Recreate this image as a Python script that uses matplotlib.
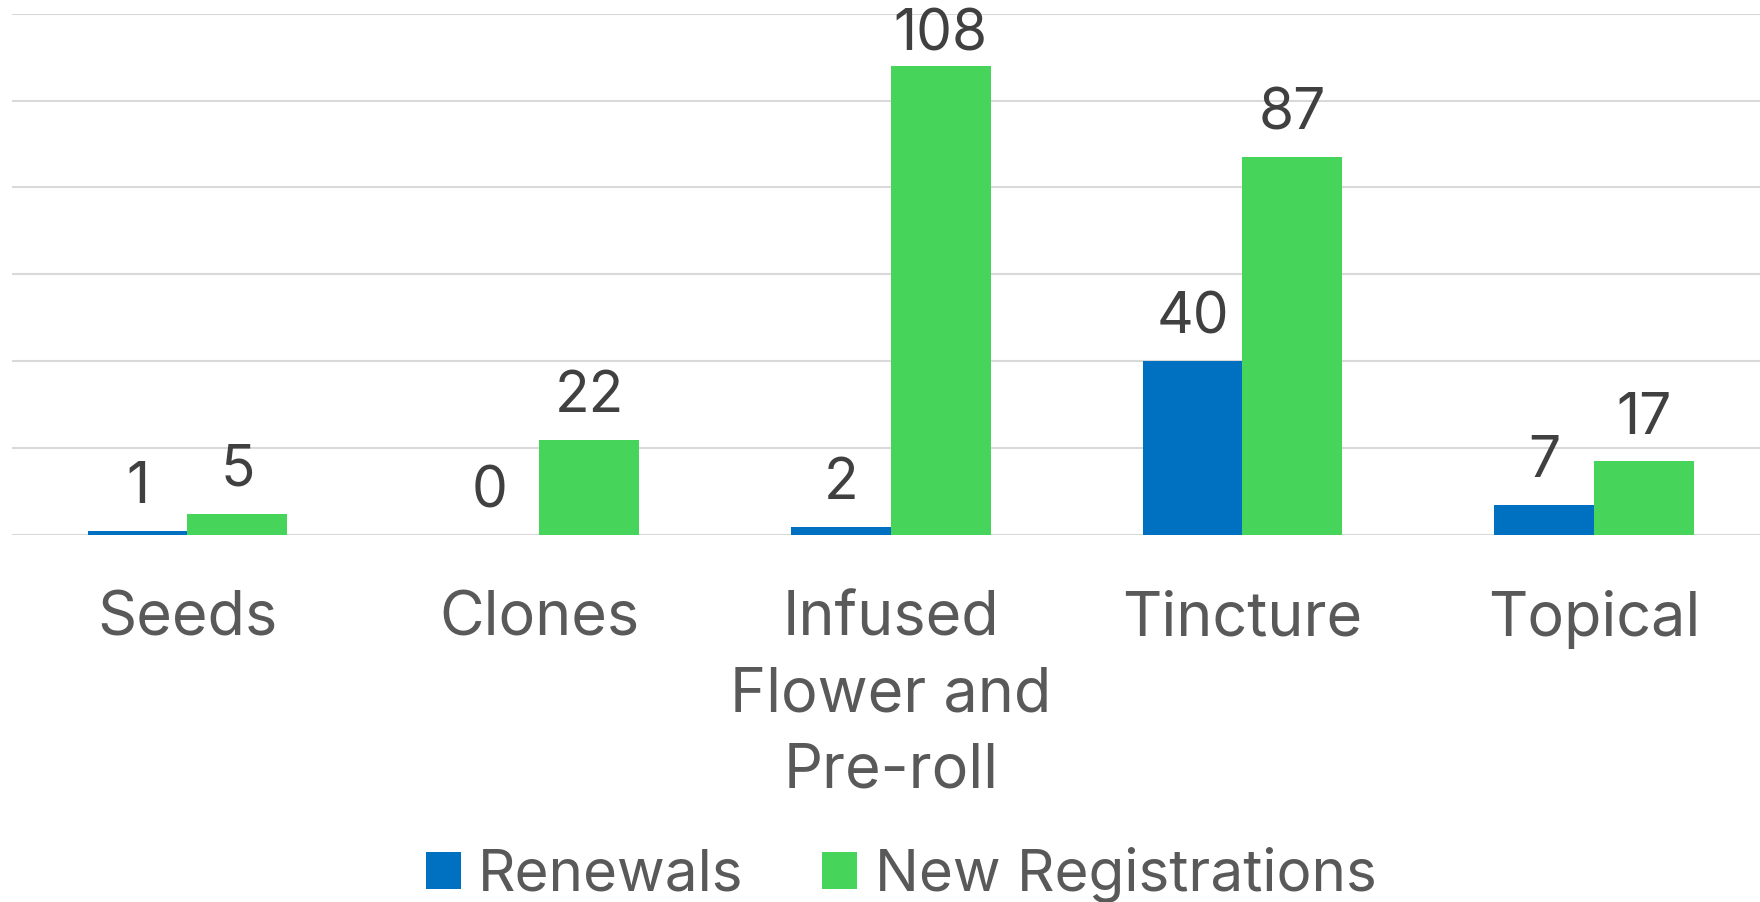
import matplotlib

matplotlib.use("Agg")
import matplotlib.pyplot as plt
import numpy as np

CATEGORIES = ["Seeds", "Clones", "Infused\nFlower and\nPre-roll", "Tincture", "Topical"]
RENEWALS = [1, 0, 2, 40, 7]
NEW_REGISTRATIONS = [5, 22, 108, 87, 17]

BLUE = "#0070C0"
GREEN = "#47D45A"
GRID = "#D9D9D9"
LABEL_DARK = "#404040"
LABEL_GRAY = "#595959"
Y_MAX = 120

plt.rcParams["font.family"] = ["Inter", "DejaVu Sans"]

fig = plt.figure(figsize=(17.6, 9.02), dpi=100)
ax = fig.add_axes([0.0066, 0.4064, 0.9990, 0.5786])

x = np.arange(len(CATEGORIES))
width = 0.284
bars_r = ax.bar(x - width / 2, RENEWALS, width, color=BLUE, label="Renewals", zorder=3)
bars_n = ax.bar(x + width / 2, NEW_REGISTRATIONS, width, color=GREEN, label="New Registrations", zorder=3)

for bars in (bars_r, bars_n):
    for bar in bars:
        h = bar.get_height()
        # labels near the top get pushed down to stay inside the plot area
        offset = 20 if h < 0.85 * Y_MAX else 11
        ax.annotate(
            f"{int(h)}",
            (bar.get_x() + bar.get_width() / 2, h),
            xytext=(0, offset),
            textcoords="offset points",
            ha="center",
            va="baseline",
            fontsize=41,
            color=LABEL_DARK,
        )

ax.set_xlim(-0.5, len(CATEGORIES) - 0.5)
ax.set_ylim(0, Y_MAX)
ax.set_yticks(range(0, Y_MAX + 1, 20))
ax.yaxis.grid(True, color=GRID, linewidth=1.5, zorder=0)
ax.tick_params(axis="y", left=False, labelleft=False)
ax.tick_params(axis="x", bottom=False, pad=36)
ax.set_xticks(x)
ax.set_xticklabels(CATEGORIES, fontsize=44, color=LABEL_GRAY, linespacing=1.4)
for spine in ax.spines.values():
    spine.set_visible(False)

fig.legend(
    handles=[bars_r, bars_n],
    loc="center",
    bbox_to_anchor=(0.512, 0.030),
    ncol=2,
    frameon=False,
    fontsize=42,
    labelcolor=LABEL_GRAY,
    handlelength=0.6,
    handleheight=0.6,
    handletextpad=0.3,
    columnspacing=1.35,
)

fig.savefig("out.png", dpi=100)
